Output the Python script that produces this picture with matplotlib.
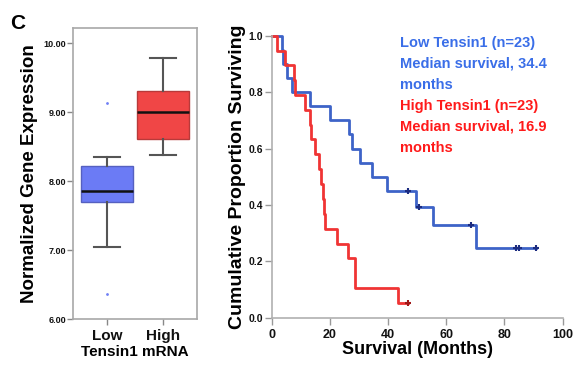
import matplotlib
matplotlib.use("Agg")
import matplotlib.pyplot as plt

plt.rcParams['font.family'] = ['Liberation Sans', 'DejaVu Sans']

# ---- Box plot data (Normalized Gene Expression) ----
groups = ["Low", "High"]
whisker_low = [7.05, 8.38]
q1 = [7.70, 8.61]
median = [7.86, 9.00]
q3 = [8.22, 9.31]
whisker_high = [8.35, 9.79]
outliers = [[9.13, 6.36], []]
box_yticks = [6.0, 7.0, 8.0, 9.0, 10.0]

# ---- Kaplan-Meier data ----
low_times = [0, 3.5, 4.0, 5.2, 7.0, 13.1, 20.0, 26.6, 27.5, 30.3, 34.6, 39.8, 49.6, 55.4, 70.3, 91.0]
low_surv = [1.0, 0.95, 0.90, 0.85, 0.80, 0.75, 0.70, 0.65, 0.60, 0.55, 0.50, 0.45, 0.394, 0.328, 0.246, 0.246]
low_cens_t = [46.8, 50.5, 68.6, 84.0, 85.0, 91.0]
low_cens_s = [0.45, 0.394, 0.328, 0.246, 0.246, 0.246]

high_times = [0, 1.7, 4.5, 7.5, 8.0, 11.3, 13.0, 13.4, 14.9, 16.3, 16.8, 17.5, 18.0, 18.3, 22.6, 26.1, 28.5, 43.3, 46.7]
high_surv = [1.0, 0.947, 0.895, 0.842, 0.789, 0.737, 0.684, 0.632, 0.579, 0.526, 0.474, 0.421, 0.368, 0.316, 0.263, 0.211, 0.105, 0.053, 0.053]
high_cens_t = [46.7]
high_cens_s = [0.053]

km_xticks = [0, 20, 40, 60, 80, 100]
km_yticks = [0.0, 0.2, 0.4, 0.6, 0.8, 1.0]

fig = plt.figure(figsize=(5.75, 3.71), dpi=100)

# ---------- Left: box plot ----------
ax1 = fig.add_axes([0.127, 0.140, 0.2157, 0.784])
stats = []
for i in range(2):
    stats.append(dict(med=median[i], q1=q1[i], q3=q3[i], whislo=whisker_low[i],
                      whishi=whisker_high[i], fliers=outliers[i], label=groups[i]))
box_colors = ["#6b7bf5", "#f04646"]
edge_colors = ["#5560c0", "#b83a3a"]
bp = ax1.bxp(stats, positions=[1, 2], widths=0.94, patch_artist=True, showfliers=True,
             boxprops=dict(linewidth=1.0),
             whiskerprops=dict(color="#555555", linewidth=1.5),
             capprops=dict(color="#555555", linewidth=1.5),
             capwidths=0.46,
             medianprops=dict(color="#111111", linewidth=1.8),
             flierprops=dict(marker='o', markersize=1.0, markerfacecolor="#7080f5",
                             markeredgecolor="#7080f5", linestyle='none'))
for patch, fc, ec in zip(bp['boxes'], box_colors, edge_colors):
    patch.set_facecolor(fc)
    patch.set_edgecolor(ec)
ax1.set_xlim(0.393, 2.607)
ax1.set_ylim(6.0, 10.22)
ax1.set_yticks(box_yticks)
ax1.set_yticklabels([f"{v:.2f}" for v in box_yticks], fontsize=6.5, fontweight='bold')
ax1.set_xticks([1, 2])
ax1.set_xticklabels(groups, fontsize=11, fontweight='bold')
for sp in ax1.spines.values():
    sp.set_color("#a8a8a8")
    sp.set_linewidth(1.2)
ax1.tick_params(axis='both', colors="#888888", labelcolor="#111111", length=4, width=1)
ax1.tick_params(axis='y', pad=1)
ax1.set_xlabel("Tensin1 mRNA", fontsize=11, fontweight='bold', labelpad=1)
ax1.set_ylabel("Normalized Gene Expression", fontsize=13.5, fontweight='bold', labelpad=4)

fig.text(0.017, 0.937, "C", fontsize=15, fontweight='bold', ha='left', va='center')

# ---------- Right: Kaplan-Meier ----------
ax2 = fig.add_axes([0.4725, 0.1437, 0.506, 0.760])
ax2.step(low_times, low_surv, where='post', color="#3d63c8", linewidth=2.0, clip_on=False)
ax2.step(high_times, high_surv, where='post', color="#f03434", linewidth=2.0, clip_on=False)
ax2.plot(low_cens_t, low_cens_s, linestyle='none', marker='+', markersize=5, mew=1.5,
         color="#1c2c80", clip_on=False)
ax2.plot(high_cens_t, high_cens_s, linestyle='none', marker='+', markersize=5, mew=1.5,
         color="#a01818", clip_on=False)
ax2.set_xlim(0, 100)
ax2.set_ylim(0, 1.0)
ax2.set_xticks(km_xticks)
ax2.set_xticklabels([str(v) for v in km_xticks], fontsize=9, fontweight='bold')
ax2.set_yticks(km_yticks)
ax2.set_yticklabels([f"{v:.1f}" for v in km_yticks], fontsize=7.5, fontweight='bold')
ax2.spines['top'].set_visible(False)
ax2.spines['right'].set_visible(False)
for s in ['left', 'bottom']:
    ax2.spines[s].set_color("#b0b0b0")
    ax2.spines[s].set_linewidth(1.2)
ax2.tick_params(axis='both', colors="#999999", labelcolor="#111111", length=5, width=1)
ax2.tick_params(axis='y', pad=1)
ax2.set_xlabel("Survival (Months)", fontsize=13, fontweight='bold', labelpad=0)
ax2.set_ylabel("Cumulative Proportion Surviving", fontsize=14, fontweight='bold', labelpad=2)

legend_lines = [("Low Tensin1 (n=23)", "#3a6ee8"),
                ("Median survival, 34.4", "#3a6ee8"),
                ("months", "#3a6ee8"),
                ("High Tensin1 (n=23)", "#ff1a1a"),
                ("Median survival, 16.9", "#ff1a1a"),
                ("months", "#ff1a1a")]
y0 = 42.5
for i, (t, c) in enumerate(legend_lines):
    ypx = y0 + i * 21.1
    fig.text(400 / 575, 1 - ypx / 371, t, color=c, fontsize=10.5, fontweight='bold',
             ha='left', va='center')

fig.savefig("out.png", dpi=100)
